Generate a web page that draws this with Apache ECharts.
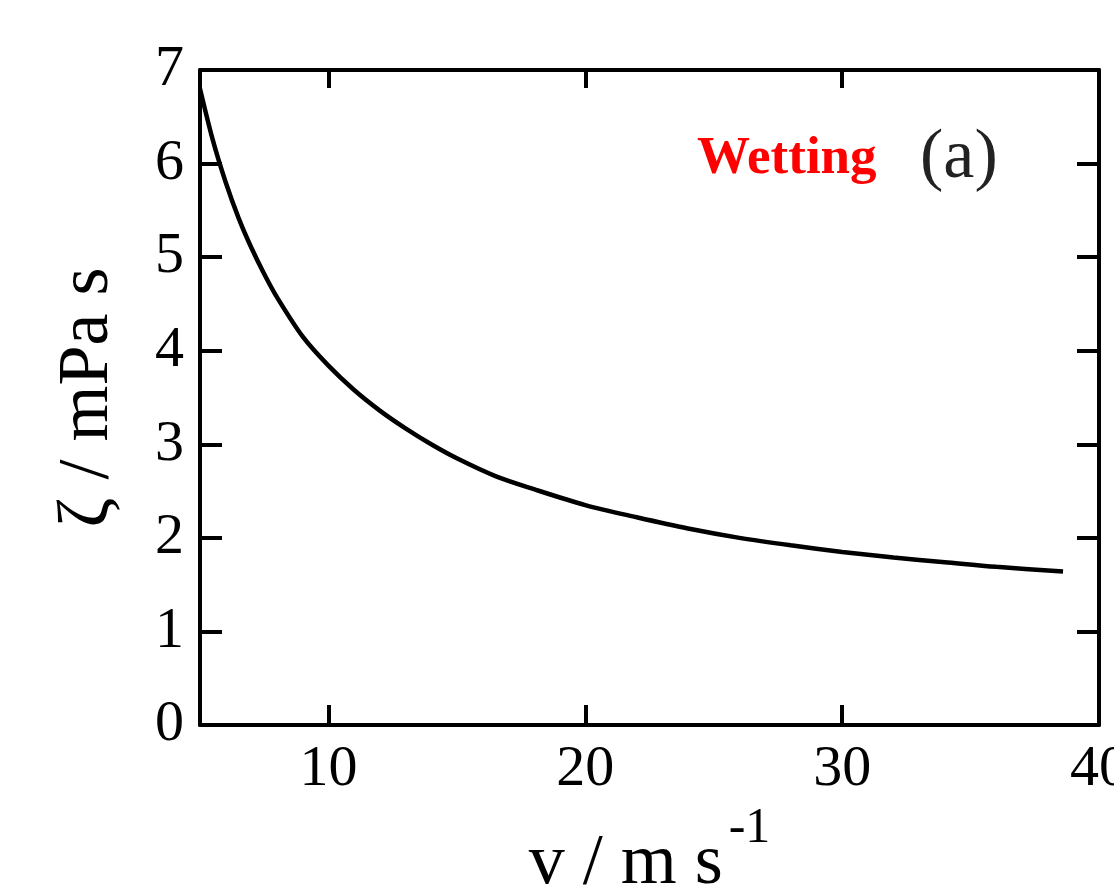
<!DOCTYPE html>
<html>
<head>
<meta charset="utf-8">
<script src="https://cdn.jsdelivr.net/npm/echarts@6/dist/echarts.min.js"></script>
<style>
  html, body { margin: 0; padding: 0; background: #fff; }
  #main { width: 1114px; height: 888px; }
</style>
</head>
<body>
<div id="main"></div>
<script>
// v / m s^-1
const speed = [5, 5.5, 6, 6.5, 7, 7.5, 8, 9, 10, 11, 12, 13, 14, 15, 16.5, 18, 20, 22, 24, 26, 28, 30, 32, 34, 36, 38.6];
// zeta / mPa s
const zeta = [6.8, 6.25, 5.8, 5.42, 5.1, 4.82, 4.57, 4.15, 3.84, 3.58, 3.36, 3.17, 3.0, 2.85, 2.66, 2.52, 2.35, 2.22, 2.1, 2.0, 1.92, 1.85, 1.79, 1.74, 1.69, 1.64];

const xTicks = [10, 20, 30, 40];

const serif = "'Liberation Serif', 'DejaVu Serif', serif";
const lineStyle = { color: '#000', width: 4 };

const chart = echarts.init(document.getElementById('main'));

const option = {
  backgroundColor: '#fff',
  animation: false,
  grid: { left: 200, right: 15, top: 70, bottom: 163, outerBoundsMode: 'none', containLabel: false },
  xAxis: [
    {
      type: 'value', position: 'bottom', min: 5, max: 40,
      axisLine: { show: true, onZero: false, lineStyle: lineStyle },
      axisTick: { show: true, inside: true, length: 20, customValues: xTicks, lineStyle: { color: '#000', width: 4 } },
      axisLabel: { customValues: xTicks, margin: 16, color: '#000', fontSize: 58, fontFamily: serif },
      splitLine: { show: false },
      name: '{a|v / m s}{b|-1}',
      nameLocation: 'middle',
      nameGap: 74,
      nameTextStyle: {
        rich: {
          a: { fontSize: 72, fontFamily: serif, color: '#000' },
          b: { fontSize: 50, fontFamily: serif, color: '#000', padding: [0, 0, 70, 6] }
        }
      }
    },
    {
      type: 'value', position: 'top', min: 5, max: 40,
      axisLine: { show: true, onZero: false, lineStyle: lineStyle },
      axisTick: { show: true, inside: true, length: 18, customValues: xTicks, lineStyle: { color: '#000', width: 4 } },
      axisLabel: { show: false },
      splitLine: { show: false }
    }
  ],
  yAxis: [
    {
      type: 'value', position: 'left', min: 0, max: 7, interval: 1,
      axisLine: { show: true, onZero: false, lineStyle: lineStyle },
      axisTick: { show: true, inside: true, length: 22, lineStyle: { color: '#000', width: 4 } },
      axisLabel: { margin: 16, color: '#000', fontSize: 58, fontFamily: serif },
      splitLine: { show: false },
      name: 'ζ / mPa s',
      nameLocation: 'middle',
      nameGap: 76,
      nameRotate: 90,
      nameTextStyle: { color: '#000', fontSize: 72, fontFamily: serif }
    },
    {
      type: 'value', position: 'right', min: 0, max: 7, interval: 1,
      axisLine: { show: true, onZero: false, lineStyle: lineStyle },
      axisTick: { show: true, inside: true, length: 22, lineStyle: { color: '#000', width: 4 } },
      axisLabel: { show: false },
      splitLine: { show: false }
    }
  ],
  graphic: [
    {
      type: 'text', left: 697, top: 133,
      style: { text: 'Wetting', fill: '#ff0000', font: "bold 53px 'Liberation Serif', serif" }
    },
    {
      type: 'text', left: 920, top: 124,
      style: { text: '(a)', fill: '#222', font: "70px 'Liberation Serif', serif" }
    }
  ],
  series: [
    {
      type: 'line',
      xAxisIndex: 0,
      yAxisIndex: 0,
      data: speed.map((v, i) => [v, zeta[i]]),
      smooth: 0.3,
      showSymbol: false,
      lineStyle: { color: '#000', width: 4.5 }
    }
  ]
};

chart.setOption(option);
</script>
</body>
</html>
